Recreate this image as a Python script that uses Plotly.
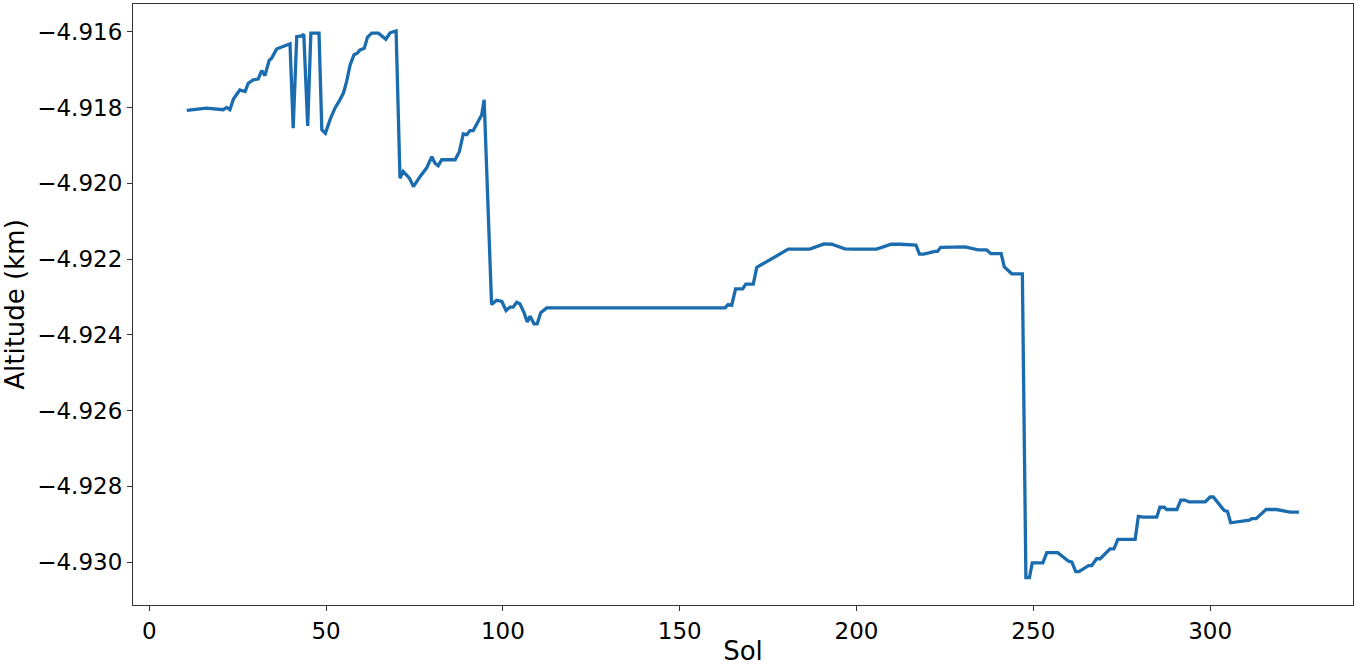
import plotly.graph_objects as go

sol = [10.6, 16.2, 20.9, 21.9, 22.8, 23.8, 25.6, 27.1, 28.0, 29.4, 30.8, 31.8, 32.7, 33.9, 34.6,
       36.0, 39.8, 40.7, 41.7, 43.1, 43.7, 44.8, 45.7, 48.0, 48.8, 49.8, 51.1, 52.5, 53.9, 54.9,
       55.8, 56.8, 57.9, 58.8, 59.6, 60.8, 61.7, 62.9, 64.8, 66.9, 68.1, 69.8, 70.9, 71.8, 73.6,
       74.7, 76.6, 78.4, 79.9, 80.8, 81.7, 82.7, 86.5, 87.7, 88.8, 89.8, 90.7, 91.6, 93.0, 94.0,
       94.7, 96.8, 98.2, 99.7, 100.9, 102.0, 102.9, 103.9, 104.8, 106.0, 106.9, 107.7, 108.8, 109.7,
       110.7, 112.4, 162.8, 163.7, 164.7, 165.8, 167.8, 168.7, 170.8, 171.8, 180.7, 186.8, 190.8,
       193.0, 196.7, 199.1, 205.7, 209.8, 212.3, 216.8, 217.8, 219.0, 222.2, 222.9, 223.8, 230.7,
       234.4, 236.8, 238.0, 240.9, 241.8, 243.9, 246.9, 247.9, 248.9, 249.7, 252.7, 253.8, 256.9,
       259.9, 260.9, 262.0, 262.9, 265.6, 266.5, 267.9, 268.9, 271.7, 272.8, 273.9, 278.8, 279.7,
       281.1, 284.9, 285.8, 287.0, 287.7, 290.6, 291.7, 292.9, 294.0, 298.6, 300.0, 300.9, 304.0,
       304.9, 305.8, 309.9, 311.1, 311.8, 313.0, 315.8, 318.8, 322.6, 325.1]

altitude = [-4.91808, -4.91802, -4.91806, -4.91800, -4.91806, -4.91778, -4.91754, -4.91758, -4.91736,
            -4.91727, -4.91725, -4.91703, -4.91716, -4.91676, -4.91670, -4.91646, -4.91632, -4.91855,
            -4.91613, -4.91611, -4.91607, -4.91849, -4.91604, -4.91604, -4.91859, -4.91868, -4.91833,
            -4.91802, -4.91780, -4.91762, -4.91732, -4.91688, -4.91661, -4.91657, -4.91648, -4.91644,
            -4.91615, -4.91604, -4.91604, -4.91620, -4.91603, -4.91598, -4.91987, -4.91969, -4.91987,
            -4.92009, -4.91982, -4.91960, -4.91930, -4.91947, -4.91954, -4.91938, -4.91938, -4.91916,
            -4.91870, -4.91872, -4.91861, -4.91861, -4.91837, -4.91820, -4.91780, -4.92320, -4.92309,
            -4.92312, -4.92336, -4.92327, -4.92327, -4.92314, -4.92318, -4.92342, -4.92366, -4.92351,
            -4.92371, -4.92371, -4.92342, -4.92329, -4.92329, -4.92320, -4.92322, -4.92279, -4.92279,
            -4.92266, -4.92266, -4.92222, -4.92174, -4.92174, -4.92160, -4.92161, -4.92173, -4.92174,
            -4.92174, -4.92161, -4.92161, -4.92163, -4.92187, -4.92187, -4.92180, -4.92180, -4.92169,
            -4.92168, -4.92176, -4.92176, -4.92186, -4.92186, -4.92221, -4.92239, -4.92239, -4.93041,
            -4.93041, -4.93002, -4.93002, -4.92975, -4.92975, -4.92997, -4.93000, -4.93025, -4.93025,
            -4.93009, -4.93009, -4.92991, -4.92991, -4.92965, -4.92965, -4.92940, -4.92940, -4.92879,
            -4.92881, -4.92881, -4.92855, -4.92855, -4.92861, -4.92861, -4.92836, -4.92836, -4.92841,
            -4.92841, -4.92828, -4.92828, -4.92864, -4.92866, -4.92896, -4.92889, -4.92889, -4.92885,
            -4.92885, -4.92861, -4.92861, -4.92868, -4.92868]

x_ticks = [0, 50, 100, 150, 200, 250, 300]
y_ticks = [-4.930, -4.928, -4.926, -4.924, -4.922, -4.920, -4.918, -4.916]

fig = go.Figure()
fig.add_trace(go.Scatter(x=sol, y=altitude, mode="lines",
                         line=dict(color="#1b6cae", width=3.3), showlegend=False))

font_family = "DejaVu Sans, Liberation Sans, sans-serif"
axis_common = dict(showline=True, linecolor="#333333", linewidth=1.2, mirror=True,
                   ticks="outside", ticklen=5, tickwidth=1, tickcolor="#333333",
                   showgrid=False, zeroline=False, automargin=False,
                   tickfont=dict(family=font_family, size=23, color="black"))

fig.update_layout(
    width=1358, height=666,
    paper_bgcolor="white", plot_bgcolor="white",
    margin=dict(l=133, r=5, t=4, b=61),
    font=dict(family=font_family, color="black"),
    xaxis=dict(range=[-4.6, 340.4], tickvals=x_ticks,
               title=dict(text="Sol", font=dict(size=26), standoff=2), **axis_common),
    yaxis=dict(range=[-4.93113, -4.91527], tickvals=y_ticks, tickformat=".3f",
               title=dict(text="Altitude (km)", font=dict(size=26), standoff=7), **axis_common),
)

fig.write_html("out.html",
               config={"displayModeBar": False},
               post_script="document.body.style.margin='0';document.body.style.padding='0';")
